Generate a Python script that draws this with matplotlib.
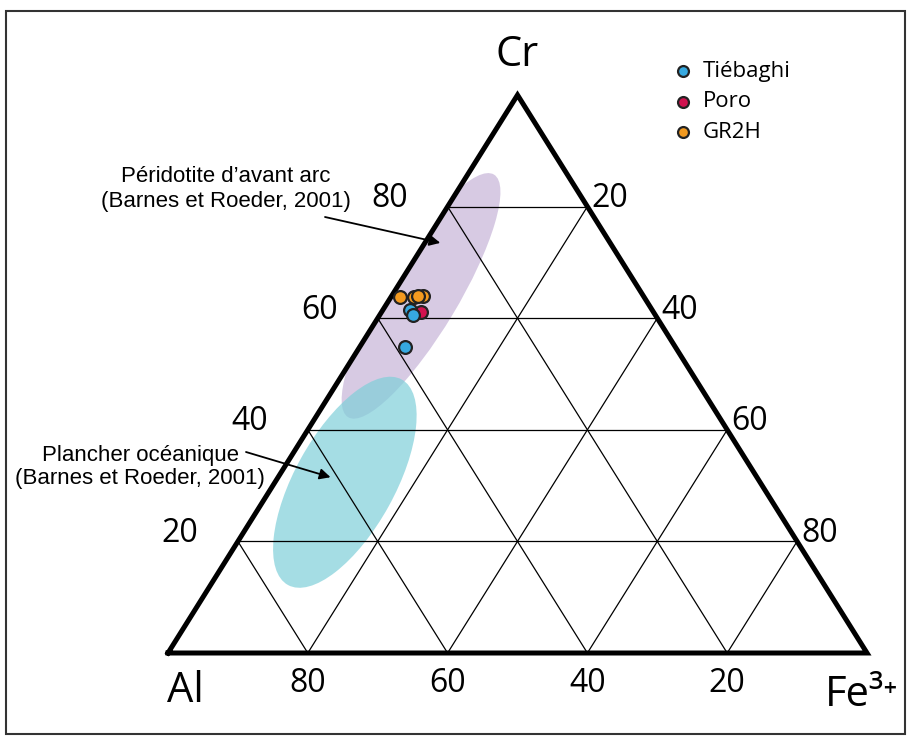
import numpy as np
import matplotlib.pyplot as plt
from matplotlib.patches import Ellipse, Polygon, Rectangle

# ternary data (Cr, Al, Fe3+) in %
tieb_cr = [61.5, 60.6, 54.8]
tieb_al = [34.6, 34.6, 38.7]
tieb_fe = [3.9, 4.8, 6.5]

poro_cr = [61.1]
poro_al = [33.3]
poro_fe = [5.6]

gr2h_cr = [63.8, 63.8, 64.0, 63.9]
gr2h_al = [34.9, 32.9, 31.5, 32.3]
gr2h_fe = [1.3, 3.3, 4.5, 3.8]

ticks = [20, 40, 60, 80]

# fields (Barnes et Roeder, 2001): centre Cr, Al, Fe
arc_centre = (64.0, 31.8, 4.2)
ocean_centre = (30.6, 59.4, 10.0)
arc_tip = (73.5, 24.3, 2.2)
ocean_tip = (31.5, 61.0, 7.5)

H = 558 / 699  # triangle height, squashed like the original
px = 1 / 699   # one pixel in data units


def tern(cr, al, fe):
    cr = np.asarray(cr, float)
    al = np.asarray(al, float)
    fe = np.asarray(fe, float)
    t = cr + al + fe
    return fe / t + 0.5 * cr / t, H * cr / t


def pix(x, y):
    # picture pixel -> data units
    return (x - 168) * px, (653 - y) * px


fig = plt.figure(figsize=(9.11, 7.40), dpi=100)
ax = fig.add_axes([0, 0, 1, 1])
ax.set_xlim(-168 * px, 743 * px)
ax.set_ylim(-87 * px, 653 * px)
ax.axis('off')

# frame round the figure
ax.add_patch(Rectangle(pix(6, 734), 899 * px, 723 * px,
                       fill=False, ec='#333333', lw=1.5))

# fields
tri = Polygon([tern(0, 100, 0), tern(0, 0, 100), tern(100, 0, 0)], closed=True,
              fill=False, lw=0)
ax.add_patch(tri)
e1 = Ellipse(tern(*arc_centre), 0.405, 0.105, angle=59, fc='#c6b4d8', alpha=0.7,
             lw=0, zorder=1)
e2 = Ellipse(tern(*ocean_centre), 0.336, 0.143, angle=61, fc='#7fcfd9', alpha=0.7,
             lw=0, zorder=1)
for e in (e1, e2):
    ax.add_patch(e)
    e.set_clip_path(tri)

# grid
for v in ticks:
    w = 100 - v
    lines = [((v, w, 0), (v, 0, w)),   # Cr constant
             ((0, v, w), (w, v, 0)),   # Al constant
             ((0, w, v), (w, 0, v))]   # Fe constant
    for a, b in lines:
        xa, ya = tern(*a)
        xb, yb = tern(*b)
        ax.plot([xa, xb], [ya, yb], color='black', lw=0.9, zorder=2)

# outline
xs, ys = tern([0, 0, 100, 0], [100, 0, 0, 100], [0, 100, 0, 0])
ax.plot(xs, ys, color='black', lw=3.6, solid_joinstyle='miter', zorder=3)

# tick labels
font = ['Open Sans', 'DejaVu Sans']
for v in ticks:
    x, y = tern(v, 100 - v, 0)
    ax.text(x - 40 * px, y + 8 * px, str(v), ha='right', va='center',
            fontsize=23, family=font)
    x, y = tern(100 - v, 0, v)
    ax.text(x + 4 * px, y + 8 * px, str(v), ha='left', va='center',
            fontsize=23, family=font)
    x, y = tern(0, v, 100 - v)
    ax.text(x, y - 30 * px, str(v), ha='center', va='center',
            fontsize=23, family=font)

x, y = tern(100, 0, 0)
ax.text(x, y + 40 * px, 'Cr', ha='center', va='center', fontsize=30, family=font)
x, y = tern(0, 100, 0)
ax.text(x + 17 * px, y - 38 * px, 'Al', ha='center', va='center', fontsize=30,
        family=font)
x, y = tern(0, 0, 100)
ax.text(x - 5 * px, y - 42 * px, 'Fe³⁺', ha='center', va='center', fontsize=30,
        family=font)

# samples
ax.scatter(*tern(poro_cr, poro_al, poro_fe), s=85, c='#d1124f', ec='#222222',
           lw=1.6, zorder=5, label='Poro')
ax.scatter(*tern(gr2h_cr, gr2h_al, gr2h_fe), s=85, c='#f39a1f', ec='#222222',
           lw=1.6, zorder=5, label='GR2H')
ax.scatter(*tern(tieb_cr, tieb_al, tieb_fe), s=85, c='#36a9e0', ec='#222222',
           lw=1.6, zorder=6, label='Tiébaghi')

h, l = ax.get_legend_handles_labels()
order = [2, 0, 1]
ax.legend([h[i] for i in order], [l[i] for i in order], loc='upper left',
          bbox_to_anchor=(672 / 911, 1 - 61 / 740), frameon=False,
          borderpad=0, borderaxespad=0, handlelength=1.0, handletextpad=0.4,
          labelspacing=0.42, markerscale=0.85,
          prop={'family': font, 'size': 16})

# annotations
arrow = dict(arrowstyle='-|>', color='black', lw=1.3, mutation_scale=16,
             shrinkA=0, shrinkB=0)
ax.text(*pix(226, 189), "Péridotite d’avant arc\n(Barnes et Roeder, 2001)",
        ha='center', va='center', fontsize=16, family='Liberation Sans',
        linespacing=1.25)
ax.annotate('', xy=tern(*arc_tip), xytext=pix(325, 217), arrowprops=arrow)
ax.text(*pix(140, 467), 'Plancher océanique\n(Barnes et Roeder, 2001)',
        ha='center', va='center', fontsize=16, family='Liberation Sans',
        linespacing=1.1)
ax.annotate('', xy=tern(*ocean_tip), xytext=pix(246, 452), arrowprops=arrow)

fig.savefig('out.png', dpi=100)
